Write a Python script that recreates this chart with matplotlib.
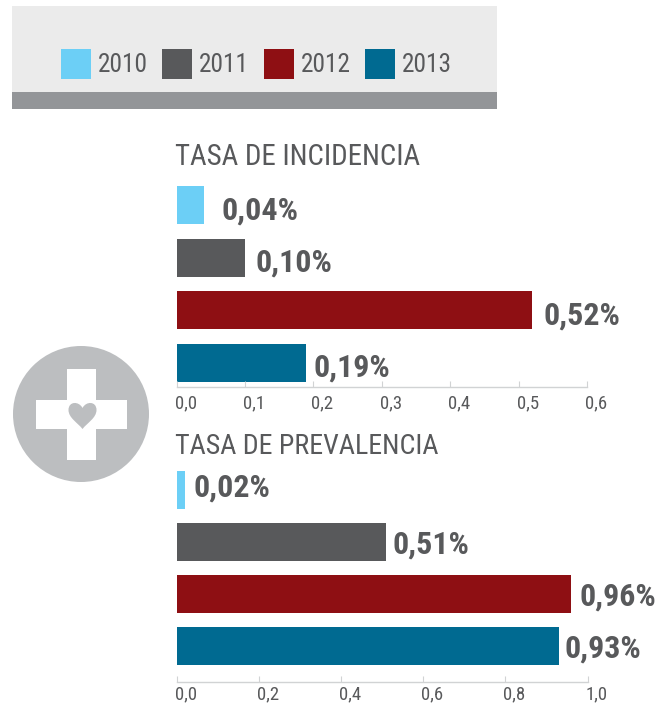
import matplotlib
matplotlib.use('Agg')
import matplotlib.pyplot as plt
from matplotlib.patches import Circle, PathPatch, Rectangle
from matplotlib.path import Path
from matplotlib.transforms import ScaledTranslation

W, H = 658, 705
GREY = '#58595b'

years = ['2010', '2011', '2012', '2013']
colors = ['#6ccff6', '#58595b', '#8e0f13', '#006a91']

incidencia = [0.04, 0.10, 0.52, 0.19]
incidencia_labels = ['0,04%', '0,10%', '0,52%', '0,19%']
incidencia_ticks = [0.0, 0.1, 0.2, 0.3, 0.4, 0.5, 0.6]
incidencia_ticklabels = ['0,0', '0,1', '0,2', '0,3', '0,4', '0,5', '0,6']

prevalencia = [0.02, 0.51, 0.96, 0.93]
prevalencia_labels = ['0,02%', '0,51%', '0,96%', '0,93%']
prevalencia_ticks = [0.0, 0.2, 0.4, 0.6, 0.8, 1.0]
prevalencia_ticklabels = ['0,0', '0,2', '0,4', '0,6', '0,8', '1,0']

plt.rcParams['font.family'] = ['Roboto Condensed', 'DejaVu Sans']


def px_axes(fig, left, top, right, bottom):
    return fig.add_axes([left / W, 1 - bottom / H, (right - left) / W, (bottom - top) / H])


def bar_panel(fig, box, ylim, values, labels, ticks, ticklabels, xmax, dx, dy, pad):
    ax = px_axes(fig, *box)
    ax.barh(range(4), values, height=0.73, color=colors)
    ax.set_xlim(0, xmax)
    ax.set_ylim(*ylim)
    ax.patch.set_alpha(0)
    for i, (v, lab) in enumerate(zip(values, labels)):
        ax.annotate(lab, (v, i), xytext=(dx[i] * 0.72, -dy[i] * 0.72), textcoords='offset points',
                    ha='left', va='center', fontsize=23, fontweight='bold', color=GREY)
    for s in ['top', 'left', 'right']:
        ax.spines[s].set_visible(False)
    ax.spines['bottom'].set_color('#d1d3d4')
    ax.spines['bottom'].set_linewidth(1)
    ax.set_yticks([])
    ax.set_xticks(ticks)
    ax.set_xticklabels(ticklabels, ha='left', fontsize=13.5, color=GREY)
    ax.tick_params(axis='x', direction='in', length=4, width=0.8, color='#d1d3d4', pad=pad)
    shift = ScaledTranslation(-2 / 100, 0, fig.dpi_scale_trans)
    for t in ax.get_xticklabels():
        t.set_transform(t.get_transform() + shift)
    return ax


fig = plt.figure(figsize=(W / 100, H / 100), dpi=100)

# header, legend and icon live in a pixel-coordinate overlay
bg = fig.add_axes([0, 0, 1, 1])
bg.set_xlim(0, W)
bg.set_ylim(H, 0)
bg.axis('off')
bg.add_patch(Rectangle((12, 6), 485, 86, color='#ebebeb', lw=0))
bg.add_patch(Rectangle((12, 92), 485, 17, color='#939598', lw=0))
for year, col, x in zip(years, colors, [61, 162, 264, 365]):
    bg.add_patch(Rectangle((x, 49), 30, 30, color=col, lw=0))
    bg.text(x + 37, 65, year, ha='left', va='center', fontsize=18.3, color=GREY)

bg.add_patch(Circle((81, 414), 68, color='#bcbec0', lw=0))
bg.add_patch(Rectangle((67, 369), 29, 91, color='white', lw=0))
bg.add_patch(Rectangle((36, 400), 91, 29, color='white', lw=0))
heart = Path(
    [(82.5, 429),
     (78, 423), (68.5, 418), (68.5, 410),
     (68.5, 401), (79, 401), (82.5, 408),
     (86, 401), (96.5, 401), (96.5, 410),
     (96.5, 418), (87, 423), (82.5, 429)],
    [Path.MOVETO] + [Path.CURVE4] * 12)
bg.add_patch(PathPatch(heart, fc='#bcbec0', lw=0))

bg.text(175, 157, 'TASA DE INCIDENCIA', ha='left', va='center', fontsize=20.8, color=GREY)
bg.text(175, 447, 'TASA DE PREVALENCIA', ha='left', va='center', fontsize=20.2, color=GREY)

bar_panel(fig, (176.5, 179, 587, 387), (3.46, -0.5), incidencia, incidencia_labels,
          incidencia_ticks, incidencia_ticklabels, 0.6,
          dx=[18, 11, 11, 7], dy=[5, 5, 5, 5], pad=5.4)
bar_panel(fig, (176.5, 464, 587.5, 682), (3.69, -0.5), prevalencia, prevalencia_labels,
          prevalencia_ticks, prevalencia_ticklabels, 1.0,
          dx=[9, 6, 8, 6], dy=[-2, 2, 2, 2], pad=2.4)

fig.savefig('out.png', dpi=100)
